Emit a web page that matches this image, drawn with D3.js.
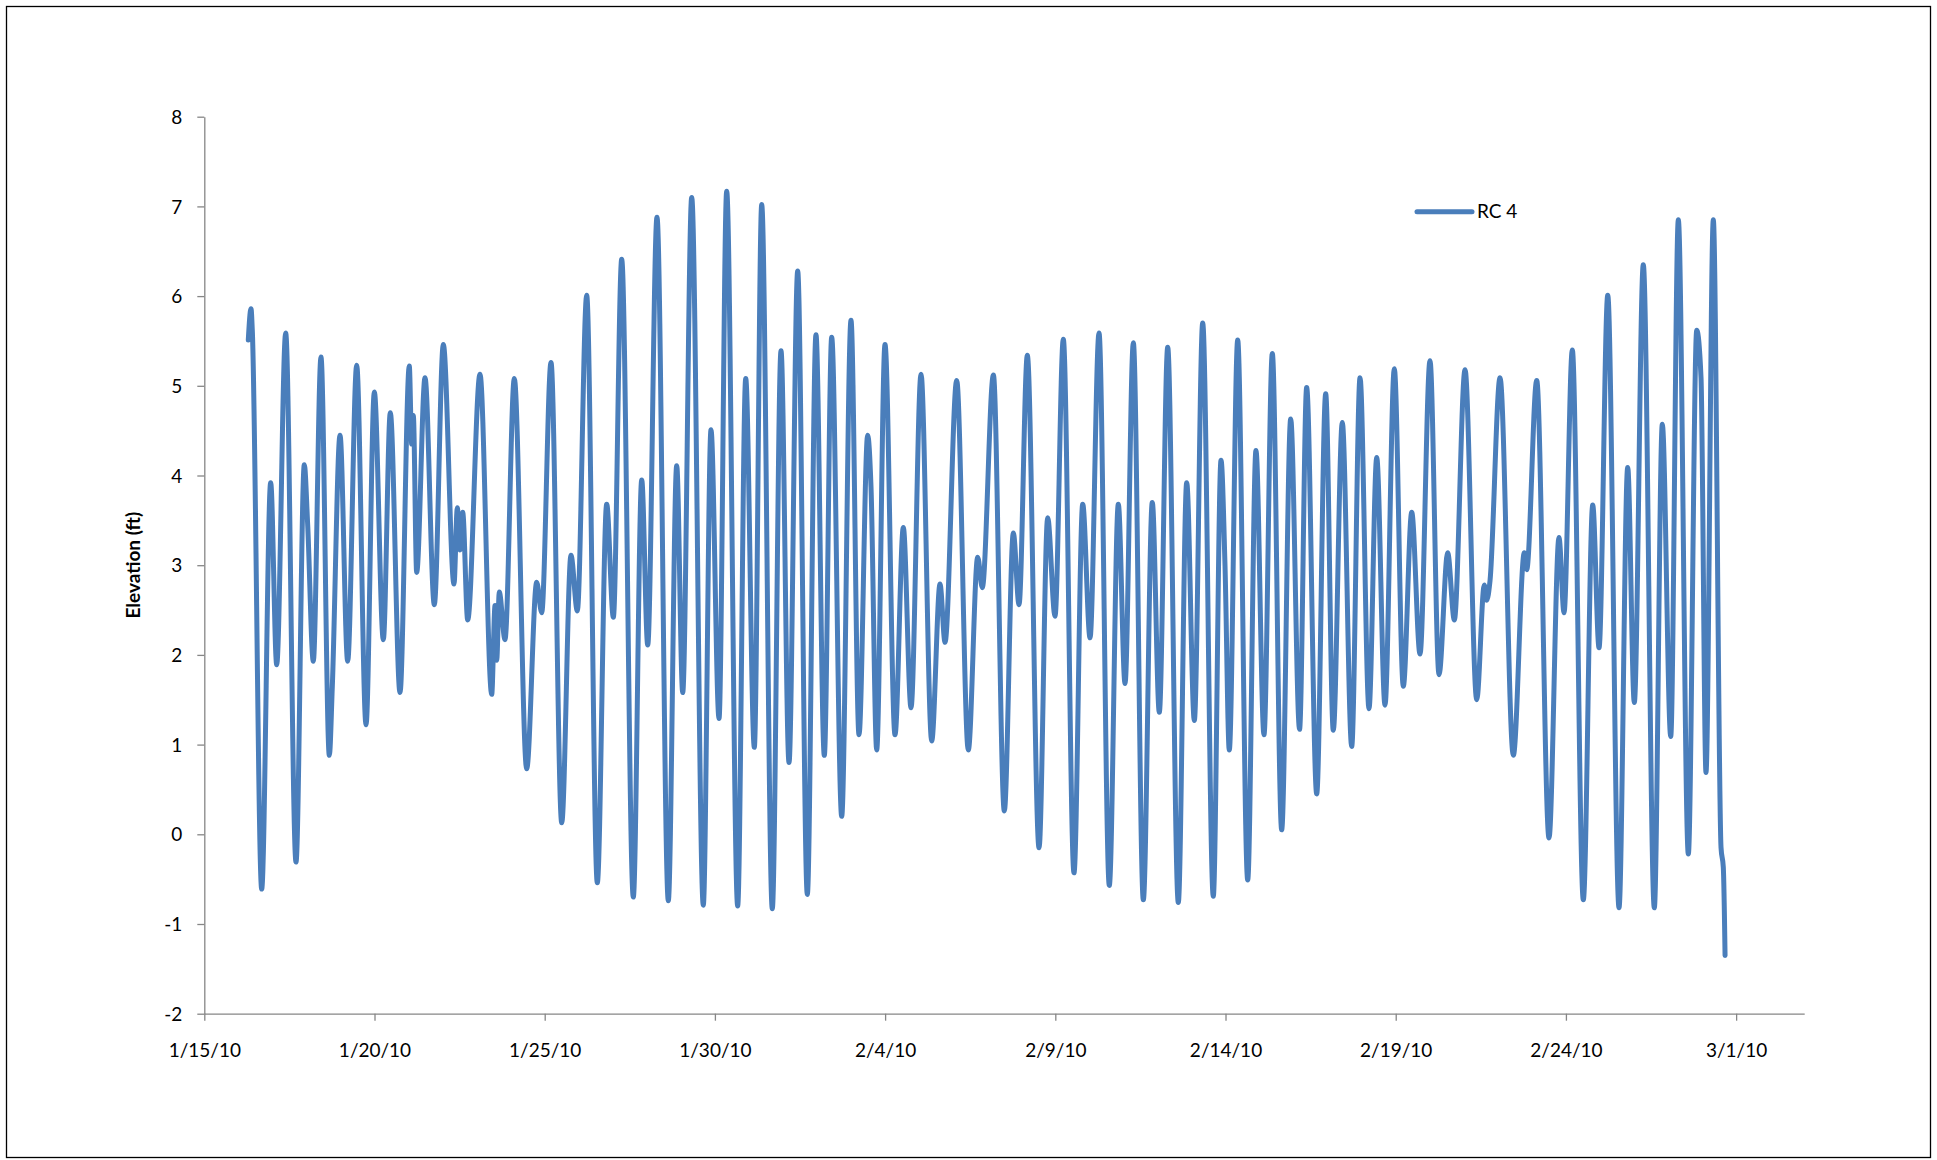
<!DOCTYPE html>
<html>
<head>
<meta charset="utf-8">
<script src="https://cdn.jsdelivr.net/npm/d3@7"></script>
<style>
  html, body { margin: 0; padding: 0; background: #fff; }
  svg { display: block; }
  text { font-family: Lato, "Open Sans", "Liberation Sans", sans-serif; fill: #000; }
</style>
</head>
<body>
<svg id="chart" width="1937" height="1160"></svg>
<script>
// Water surface elevation at station RC 4, January 15 - March 1, 2010.
// Readings are given as days elapsed since the start of 1/15/10.
const seriesName = "RC 4";
const yAxisTitle = "Elevation (ft)";
const startDate = new Date(2010, 0, 15);
const axisEndDate = new Date(2010, 2, 3);

const dayOffsets = [
  1.292, 1.372, 1.410, 1.686, 1.950, 2.127, 2.391, 2.694, 2.938, 3.037,
  3.202, 3.428, 3.673, 3.760, 3.987, 4.212, 4.477, 4.751, 4.995, 5.259,
  5.464, 5.749, 6.022, 6.093, 6.140, 6.239, 6.484, 6.757, 7.022, 7.335,
  7.433, 7.512, 7.591, 7.738, 8.099, 8.443, 8.541, 8.590, 8.666, 8.833,
  9.107, 9.471, 9.765, 9.911, 10.185, 10.500, 10.772, 10.958, 11.234, 11.545,
  11.821, 12.016, 12.262, 12.603, 12.850, 13.026, 13.299, 13.631, 13.878, 14.054,
  14.319, 14.659, 14.885, 15.121, 15.346, 15.669, 15.905, 16.158, 16.375, 16.686,
  16.942, 17.177, 17.432, 17.715, 17.969, 18.214, 18.431, 18.725, 18.998, 19.233,
  19.488, 19.586, 19.753, 19.997, 20.291, 20.535, 20.761, 21.055, 21.369, 21.613,
  21.760, 22.103, 22.444, 22.720, 22.855, 23.181, 23.502, 23.767, 23.934, 24.178,
  24.522, 24.776, 24.991, 25.235, 25.549, 25.805, 26.020, 26.284, 26.586, 26.851,
  27.048, 27.292, 27.586, 27.849, 28.055, 28.302, 28.613, 28.860, 29.084, 29.330,
  29.641, 29.868, 29.985, 30.111, 30.358, 30.652, 30.895, 31.130, 31.375, 31.650,
  31.915, 32.175, 32.384, 32.679, 32.943, 33.166, 33.431, 33.707, 33.952, 34.215,
  34.442, 34.685, 34.959, 35.223, 35.470, 35.714, 36.007, 36.272, 36.527, 36.722,
  37.036, 37.380, 37.603, 37.673, 37.771, 38.064, 38.455, 38.778, 38.848, 39.142,
  39.503, 39.797, 39.944, 40.188, 40.511, 40.788, 40.973, 41.229, 41.560, 41.815,
  42.009, 42.273, 42.597, 42.832, 43.079, 43.302, 43.596, 43.843, 43.969, 44.115,
  44.330, 44.557, 44.624, 44.675
];

const elevation = [
  5.51, 5.86, 5.62, -0.61, 3.92, 1.89, 5.59, -0.31, 4.12, 3.45,
  1.93, 5.32, 0.88, 1.64, 4.45, 1.93, 5.23, 1.22, 4.93, 2.17,
  4.70, 1.58, 5.22, 4.35, 4.67, 2.92, 5.09, 2.56, 5.46, 2.79,
  3.64, 3.17, 3.59, 2.39, 5.13, 1.56, 2.55, 1.94, 2.70, 2.17,
  5.08, 0.73, 2.81, 2.47, 5.26, 0.13, 3.11, 2.49, 6.01, -0.54,
  3.68, 2.42, 6.41, -0.70, 3.95, 2.11, 6.88, -0.74, 4.11, 1.58,
  7.10, -0.79, 4.51, 1.29, 7.17, -0.80, 5.08, 0.97, 7.02, -0.83,
  5.39, 0.80, 6.28, -0.67, 5.57, 0.88, 5.54, 0.20, 5.73, 1.11,
  4.45, 3.87, 0.94, 5.46, 1.11, 3.42, 1.41, 5.13, 1.04, 2.79,
  2.14, 5.06, 0.94, 3.09, 2.75, 5.12, 0.26, 3.36, 2.56, 5.34,
  -0.15, 3.53, 2.43, 5.52, -0.43, 3.68, 2.19, 5.59, -0.57, 3.68,
  1.68, 5.48, -0.73, 3.70, 1.36, 5.43, -0.76, 3.92, 1.27, 5.70,
  -0.69, 4.17, 3.00, 0.94, 5.51, -0.51, 4.28, 1.11, 5.36, 0.05,
  4.63, 1.17, 4.98, 0.45, 4.91, 1.16, 4.59, 0.98, 5.09, 1.40,
  4.20, 1.44, 5.19, 1.65, 3.59, 2.01, 5.28, 1.78, 3.14, 2.39,
  5.18, 1.50, 2.78, 2.61, 2.83, 5.09, 0.88, 3.14, 2.95, 5.06,
  -0.04, 3.31, 2.47, 5.40, -0.73, 3.67, 2.08, 6.01, -0.82, 4.09,
  1.47, 6.35, -0.82, 4.57, 1.09, 6.85, -0.22, 5.62, 5.09, 0.69,
  6.85, -0.15, -0.37, -1.35
];

const yTickValues = [-2, -1, 0, 1, 2, 3, 4, 5, 6, 7, 8];
const xTickLabels = ["1/15/10", "1/20/10", "1/25/10", "1/30/10", "2/4/10", "2/9/10",
                     "2/14/10", "2/19/10", "2/24/10", "3/1/10"];

const W = 1937, H = 1160;
const plot = { left: 204.3, right: 1804.2, top: 116.7, bottom: 1013.7 };
const axisColor = "#868686";
const lineColor = "#4A7EBB";
const fontSize = 19;

const svg = d3.select("#chart");

svg.append("rect")
  .attr("x", 0).attr("y", 0).attr("width", W).attr("height", H)
  .attr("fill", "#fff");

// chart area frame
svg.append("rect")
  .attr("x", 6.5).attr("y", 6.5)
  .attr("width", 1924).attr("height", 1151)
  .attr("fill", "none").attr("stroke", "#000").attr("stroke-width", 1.3);

const x = d3.scaleTime().domain([startDate, axisEndDate]).range([plot.left, plot.right]);
const y = d3.scaleLinear().domain([-2, 8]).range([plot.bottom, plot.top]);

const dayMs = 864e5;
const readings = dayOffsets.map((d, i) => ({
  t: new Date(startDate.getTime() + d * dayMs),
  v: elevation[i]
}));

const parseTick = d3.timeParse("%m/%d/%y");
const formatTick = d3.timeFormat("%-m/%-d/%y");
const xTickDates = xTickLabels.map(parseTick);

// x axis
const gx = svg.append("g")
  .attr("transform", `translate(0,${plot.bottom})`)
  .call(d3.axisBottom(x).tickValues(xTickDates).tickFormat(formatTick)
    .tickSize(7).tickSizeOuter(0));
gx.select(".domain").attr("stroke", axisColor).attr("stroke-width", 1.3);
gx.selectAll(".tick line").attr("stroke", axisColor).attr("stroke-width", 1.3);
gx.selectAll(".tick text")
  .attr("y", 43.6).attr("dy", 0)
  .style("font-size", fontSize + "px")
  .style("font-family", "Lato, 'Open Sans', sans-serif")
  .attr("fill", "#000");

// y axis
const gy = svg.append("g")
  .attr("transform", `translate(${plot.left},0)`)
  .call(d3.axisLeft(y).tickValues(yTickValues).tickFormat(d => String(d))
    .tickSize(7).tickSizeOuter(0).tickPadding(15));
gy.select(".domain").attr("stroke", axisColor).attr("stroke-width", 1.3);
gy.selectAll(".tick line").attr("stroke", axisColor).attr("stroke-width", 1.3);
gy.selectAll(".tick text")
  .attr("dy", "0.35em")
  .style("font-size", fontSize + "px")
  .style("font-family", "Lato, 'Open Sans', sans-serif")
  .attr("fill", "#000");

// y axis title
svg.append("text")
  .attr("transform", `translate(133,${(plot.top + plot.bottom) / 2}) rotate(-90)`)
  .attr("text-anchor", "middle")
  .attr("dy", "0.35em")
  .style("font-size", fontSize + "px")
  .style("font-weight", "bold")
  .text(yAxisTitle);

// elevation series
const line = d3.line()
  .x(d => x(d.t))
  .y(d => y(d.v))
  .curve(d3.curveMonotoneX);

svg.append("path")
  .datum(readings)
  .attr("d", line)
  .attr("fill", "none")
  .attr("stroke", lineColor)
  .attr("stroke-width", 5)
  .attr("stroke-linejoin", "round")
  .attr("stroke-linecap", "round");

// legend
const legend = svg.append("g").attr("transform", "translate(1417,211.7)");
legend.append("line")
  .attr("x1", 0).attr("x2", 55).attr("y1", 0).attr("y2", 0)
  .attr("stroke", lineColor).attr("stroke-width", 5).attr("stroke-linecap", "round");
legend.append("text")
  .attr("x", 60).attr("y", 0).attr("dy", "0.35em")
  .style("font-size", fontSize + "px")
  .text(seriesName);
</script>
</body>
</html>
